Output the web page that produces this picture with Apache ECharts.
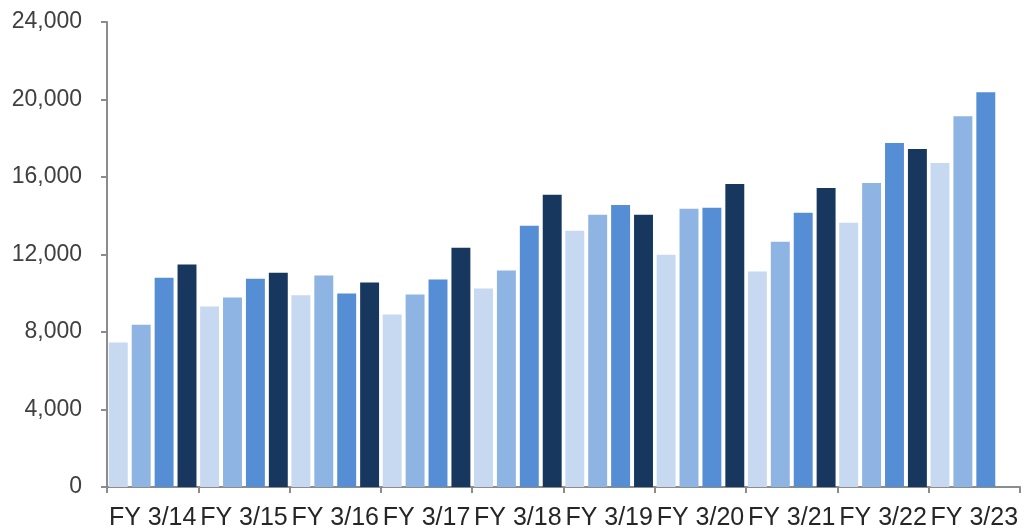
<!DOCTYPE html>
<html>
<head>
<meta charset="utf-8">
<script src="https://cdn.jsdelivr.net/npm/echarts@6/dist/echarts.min.js"></script>
<style>
html,body{margin:0;padding:0;background:#fff;}
#chart{width:1024px;height:531px;}
</style>
</head>
<body>
<div id="chart"></div>
<script>
const categories = ['FY 3/14','FY 3/15','FY 3/16','FY 3/17','FY 3/18','FY 3/19','FY 3/20','FY 3/21','FY 3/22','FY 3/23'];
const q1 = [7460, 9320, 9900, 8900, 10250, 13230, 11990, 11120, 13640, 16720];
const q2 = [8380, 9780, 10920, 9940, 11170, 14050, 14360, 12660, 15690, 19140];
const q3 = [10800, 10750, 9990, 10710, 13480, 14560, 14410, 14150, 17750, 20370];
const q4 = [11480, 11060, 10560, 12350, 15080, 14050, 15640, 15430, 17440, null];
const yTicks = [0, 4000, 8000, 12000, 16000, 20000, 24000];

const colors = ['#c6d9f1', '#8eb4e3', '#558ed5', '#17375e'];
const chart = echarts.init(document.getElementById('chart'));
const mk = (name, data, i) => ({
  name, type: 'bar', data,
  barGap: '21%', barCategoryGap: '4%',
  itemStyle: { color: colors[i] },
  animation: false
});
chart.setOption({
  animation: false,
  grid: { left: 107, right: 4, top: 22, bottom: 42, containLabel: false },
  xAxis: {
    type: 'category', data: categories,
    axisLine: { lineStyle: { color: '#8c8c8c', width: 2 } },
    axisTick: { show: true, length: 6, lineStyle: { color: '#8c8c8c', width: 2 } },
    axisLabel: { color: '#262626', fontSize: 25, fontFamily: 'Liberation Sans, Arial, sans-serif', margin: 19, interval: 0 }
  },
  yAxis: {
    type: 'value', min: yTicks[0], max: yTicks[yTicks.length - 1], interval: 4000,
    axisLine: { show: true, lineStyle: { color: '#8c8c8c', width: 2 } },
    axisTick: { show: true, length: 6, lineStyle: { color: '#8c8c8c', width: 2 } },
    splitLine: { show: false },
    axisLabel: {
      color: '#404040', fontSize: 23, fontFamily: 'Liberation Sans, Arial, sans-serif', margin: 25,
      formatter: v => v.toLocaleString('en-US')
    }
  },
  series: [mk('Q1', q1, 0), mk('Q2', q2, 1), mk('Q3', q3, 2), mk('Q4', q4, 3)]
});
</script>
</body>
</html>
